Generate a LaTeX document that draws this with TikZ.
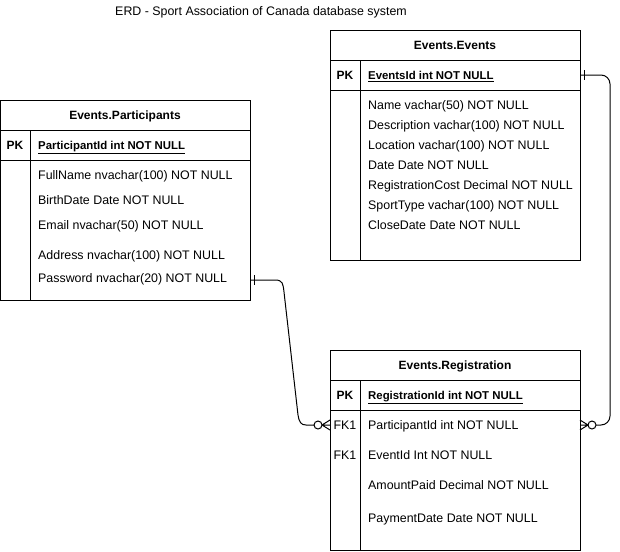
\documentclass[tikz,border=0pt]{standalone}
\usepackage{fontspec}
\setmainfont{Liberation Sans}
\usetikzlibrary{calc}
\begin{document}
\begin{tikzpicture}[x=1pt,y=-1pt,
  tbl/.style={draw,line width=1pt,anchor=north west,inner sep=0pt},
  sep/.style={line width=1pt},
  ttl/.style={font=\fontsize{12}{14}\selectfont\bfseries,inner sep=0pt,anchor=base,yshift=-4.8pt},
  key/.style={font=\fontsize{12}{14}\selectfont\bfseries,inner sep=0pt,anchor=base,yshift=-4.8pt},
  fkl/.style={font=\fontsize{12.4}{14}\selectfont,inner sep=0pt,anchor=base,yshift=-4.8pt},
  fld/.style={font=\fontsize{12.4}{14}\selectfont,anchor=base west,inner sep=0pt,yshift=-4.8pt},
  pkf/.style={font=\fontsize{11.4}{14}\selectfont\bfseries,anchor=base west,inner sep=0pt,yshift=-4.8pt},
  conn/.style={line width=1pt}]
\useasboundingbox (0,0) rectangle (620,551);
\node[fkl] (title) at (261,11) {ERD - Sport Association of Canada database system};

% Participants
\node[tbl,minimum width=250pt,minimum height=200pt] (part) at (0,100) {};
\draw[sep] (0,130) -- (250,130) (0,160) -- (250,160) (30,130) -- (30,300);
\node[ttl] (partt) at (125,115) {Events.Participants};
\node[key] (partpk) at (15,145) {PK};
\node[pkf] (partid) at (38,145) {\underline{ParticipantId int NOT NULL}};
\node[fld] (pf1) at (38,175) {FullName nvachar(100) NOT NULL};
\node[fld] (pf2) at (38,200) {BirthDate Date NOT NULL};
\node[fld] (pf3) at (38,225) {Email nvachar(50) NOT NULL};
\node[fld] (pf4) at (38,255) {Address nvachar(100) NOT NULL};
\node[fld] (pf5) at (38,278) {Password nvachar(20) NOT NULL};

% Events
\node[tbl,minimum width=250pt,minimum height=230pt] (ev) at (330,30) {};
\draw[sep] (330,60) -- (580,60) (330,90) -- (580,90) (360,60) -- (360,260);
\node[ttl] (evt) at (455,45) {Events.Events};
\node[key] (evpk) at (345,75) {PK};
\node[pkf] (evid) at (368,75) {\underline{EventsId int NOT NULL}};
\node[fld] (ef1) at (368,105) {Name vachar(50) NOT NULL};
\node[fld] (ef2) at (368,125) {Description vachar(100) NOT NULL};
\node[fld] (ef3) at (368,145) {Location vachar(100) NOT NULL};
\node[fld] (ef4) at (368,165) {Date Date NOT NULL};
\node[fld] (ef5) at (368,185) {RegistrationCost Decimal NOT NULL};
\node[fld] (ef6) at (368,205) {SportType vachar(100) NOT NULL};
\node[fld] (ef7) at (368,225) {CloseDate Date NOT NULL};

% Registration
\node[tbl,minimum width=250pt,minimum height=200pt] (reg) at (330,350) {};
\draw[sep] (330,380) -- (580,380) (330,410) -- (580,410) (360,380) -- (360,550);
\node[ttl] (regt) at (455,365) {Events.Registration};
\node[key] (regpk) at (345,395) {PK};
\node[pkf] (regid) at (368,395) {\underline{RegistrationId int NOT NULL}};
\node[fkl] (fk1) at (345,425) {FK1};
\node[fld] (rf1) at (368,425) {ParticipantId int NOT NULL};
\node[fkl] (fk2) at (345,455) {FK1};
\node[fld] (rf2) at (368,455) {EventId Int NOT NULL};
\node[fld] (rf3) at (368,485) {AmountPaid Decimal NOT NULL};
\node[fld] (rf4) at (368,518) {PaymentDate Date NOT NULL};

% connector anchors
\coordinate (p1) at (250,280);
\coordinate (r1) at (330,425);
\coordinate (e1) at (580,75);
\coordinate (r2) at (580,425);

% Participants -> Registration
\draw[conn] (p1) -- ++(25,0) .. controls ++(8,0) and ++(-1,-8) .. ++(9,12)
  -- ++(14,123) .. controls ++(1,7) and ++(-5,0) .. ++(8,10) -- ++(8,0);
\draw[conn] (p1) ++(4,-5) -- ++(0,10);
\draw[conn] (r1) ++(-12,0) circle[radius=4pt];
\draw[conn] (r1) ++(-8,0) -- ++(8,-5) (r1) ++(-8,0) -- ++(8,0) (r1) ++(-8,0) -- ++(8,5);

% Events -> Registration
\draw[conn,rounded corners=9pt] (e1) -- ++(30,0) -- ($(r2)+(30,0)$) -- ($(r2)+(16,0)$);
\draw[conn] (e1) ++(4,-5) -- ++(0,10);
\draw[conn] (r2) ++(12,0) circle[radius=4pt];
\draw[conn] (r2) ++(8,0) -- ++(-8,-5) (r2) ++(8,0) -- ++(-8,0) (r2) ++(8,0) -- ++(-8,5);
\end{tikzpicture}
\end{document}
